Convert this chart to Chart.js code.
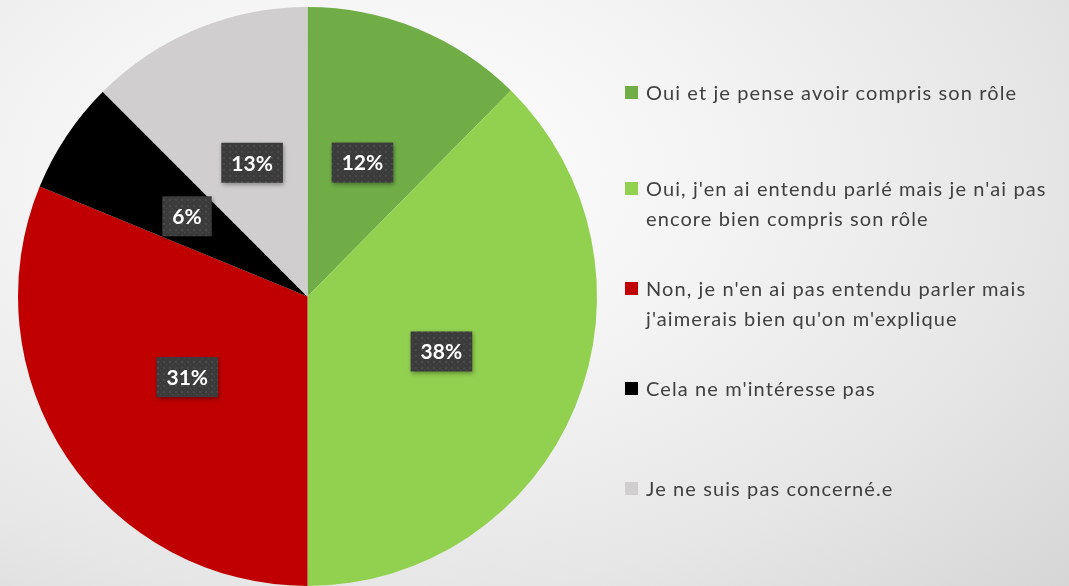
<!DOCTYPE html>
<html lang="fr">
<head>
<meta charset="UTF-8">
<title>Pie</title>
<style>
html, body { margin: 0; padding: 0; }
body { width: 1069px; height: 586px; overflow: hidden; position: relative;
  background: radial-gradient(ellipse 95% 110% at 35% 30%, #ffffff 0%, #f3f3f3 35%, #e6e6e6 65%, #d2d2d2 100%); }
#wrap { position: absolute; left: 0; top: 0; width: 1069px; height: 586px; }
#legend { position: absolute; left: 625px; top: 77px; font-family: 'Lato', sans-serif; font-size: 20px; letter-spacing: 1.1px; color: #404040; }
#legend .item { display: flex; align-items: flex-start; height: 100px; }
#legend .item:first-child { height: 96px; }
#legend .box { width: 13px; height: 13px; margin-top: 9px; margin-right: 8px; flex: none; }
#legend .txt { line-height: 30px; white-space: nowrap; }
</style>
</head>
<body>
<div id="wrap"><canvas id="c"></canvas></div>
<div id="legend"></div>

<script src="https://cdn.jsdelivr.net/npm/chart.js"></script>
<script>
const categories = [
    'Oui et je pense avoir compris son rôle',
    ["Oui, j'en ai entendu parlé mais je n'ai pas", 'encore bien compris son rôle'],
    ["Non, je n'en ai pas entendu parler mais", "j'aimerais bien qu'on m'explique"],
    "Cela ne m'intéresse pas",
    'Je ne suis pas concerné.e'
];
const shares = [12.4, 37.6, 31.2, 6.3, 12.5];
const sliceColors = ['#70AD47', '#92D050', '#C00000', '#000000', '#D0CECE'];

// legend built from the same arrays
const legendEl = document.getElementById('legend');
categories.forEach((lab, i) => {
    const item = document.createElement('div');
    item.className = 'item';
    const b = document.createElement('div');
    b.className = 'box';
    b.style.background = sliceColors[i];
    const t = document.createElement('div');
    t.className = 'txt';
    t.innerHTML = (Array.isArray(lab) ? lab : [lab]).join('<br>');
    item.appendChild(b);
    item.appendChild(t);
    legendEl.appendChild(item);
});

// dotted dark texture for the value boxes
function makePattern(ctx) {
    const p = document.createElement('canvas');
    p.width = 6; p.height = 6;
    const pc = p.getContext('2d');
    pc.fillStyle = '#3b3b3b';
    pc.fillRect(0, 0, 6, 6);
    pc.fillStyle = '#4a4a4a';
    pc.fillRect(1, 1, 2, 2);
    pc.fillRect(4, 4, 1, 1);
    return ctx.createPattern(p, 'repeat');
}

const valueBoxes = {
    id: 'valueBoxes',
    afterDatasetsDraw(chart) {
        const ctx = chart.ctx;
        const meta = chart.getDatasetMeta(0);
        const pat = makePattern(ctx);
        ctx.save();
        ctx.font = 'bold 21px Lato, sans-serif';
        ctx.textAlign = 'center';
        ctx.textBaseline = 'middle';
        meta.data.forEach((arc, i) => {
            const pos = arc.tooltipPosition();
            const txt = Math.round(shares[i]) + '%';
            const w = ctx.measureText(txt).width + 20;
            const h = 40;
            ctx.shadowColor = 'rgba(0,0,0,0.35)';
            ctx.shadowBlur = 4;
            ctx.shadowOffsetX = 1;
            ctx.shadowOffsetY = 2;
            ctx.fillStyle = pat;
            ctx.fillRect(pos.x - w / 2, pos.y - h / 2, w, h);
            ctx.shadowColor = 'transparent';
            ctx.fillStyle = '#ffffff';
            ctx.fillText(txt, pos.x, pos.y + 1);
        });
        ctx.restore();
    }
};

new Chart(document.getElementById('c'), {
    type: 'pie',
    data: {
        labels: categories,
        datasets: [{
            data: shares,
            backgroundColor: sliceColors,
            borderWidth: 0
        }]
    },
    options: {
        responsive: true,
        maintainAspectRatio: false,
        animation: false,
        layout: { padding: { left: 18, right: 472, top: 7, bottom: 0 } },
        plugins: {
            legend: { display: false },
            tooltip: { enabled: false }
        }
    },
    plugins: [valueBoxes]
});
</script>
</body>
</html>
